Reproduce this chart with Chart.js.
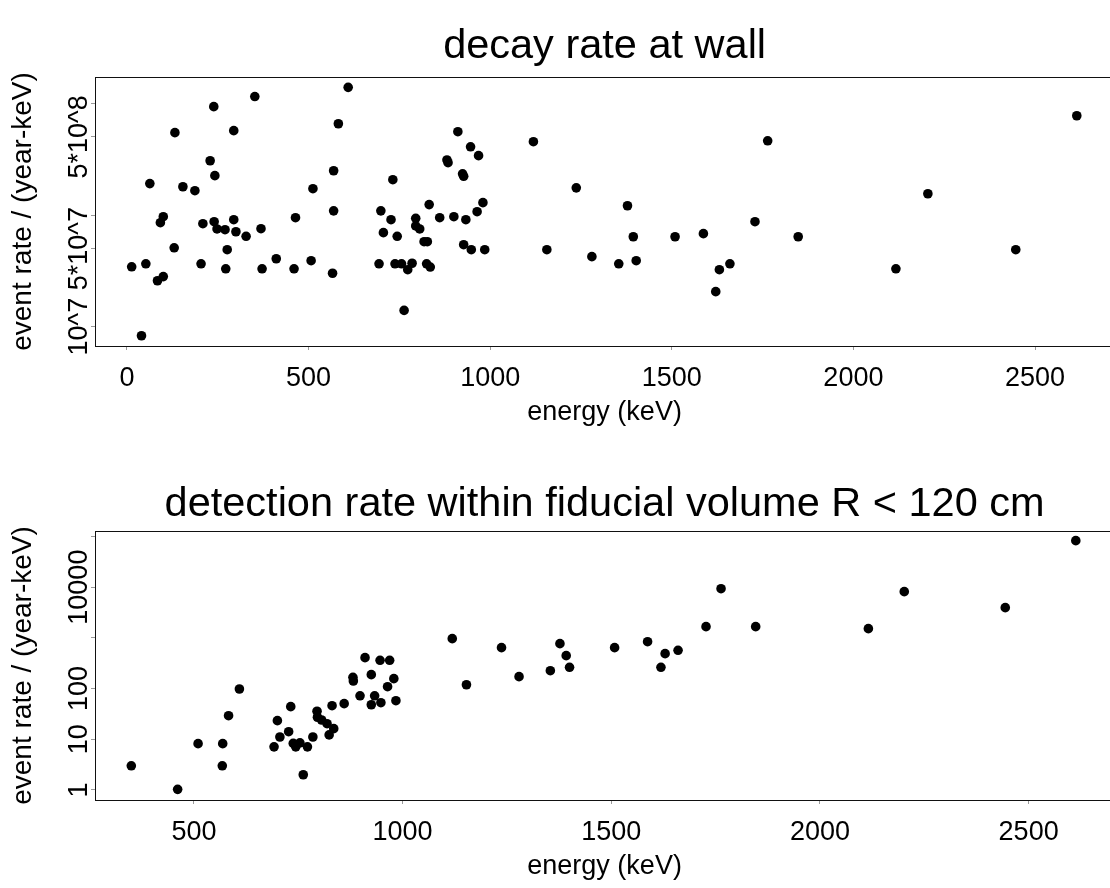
<!DOCTYPE html>
<html lang="en">
<head>
  <meta charset="UTF-8">
  <title>decay rate at wall / detection rate within fiducial volume</title>
  <script src="https://cdn.jsdelivr.net/npm/chart.js"></script>
  <style>
    html, body { margin: 0; padding: 0; background: #fff; overflow: hidden; }
    .panel { width: 1119px; height: 454px; }
    canvas { display: block; }
  </style>
</head>
<body>
  <div class="panel"><canvas id="wallChart" width="1119" height="454"></canvas></div>
  <div class="panel"><canvas id="fidChart" width="1119" height="454"></canvas></div>

  <script>
    // top panel: decay rate at wall (keV, events / year-keV)
    const wallEnergy = [13, 52, 40, 63, 84, 100, 92, 100, 132, 130, 154, 187, 204, 209, 229, 239, 242, 240,
      248, 270, 276, 272, 294, 294, 300, 328, 352, 369, 372, 411, 460, 464, 507, 512, 566, 569, 569, 582,
      609, 694, 699, 706, 732, 727, 738, 744, 756, 763, 773, 785, 795, 795, 806, 818, 827, 825, 835, 832,
      861, 881, 884, 900, 911, 924, 927, 933, 927, 946, 948, 968, 964, 980, 985, 1119, 1156, 1237, 1280,
      1354, 1378, 1394, 1402, 1509, 1587, 1621, 1631, 1660, 1729, 1764, 1848, 2117, 2205, 2447, 2615];
    const wallRate = [3.44e7, 3.66e7, 8.3e6, 1.91e8, 2.58e7, 2.81e7, 8.53e7, 9.66e7, 5.46e8, 5.09e7, 1.79e8,
      1.65e8, 3.66e7, 8.36e7, 3.06e8, 9.33e8, 2.25e8, 8.71e7, 7.5e7, 7.39e7, 4.89e7, 3.3e7, 9.08e7, 5.69e8,
      7.08e7, 6.45e7, 1.15e9, 7.54e7, 3.3e7, 4.06e7, 3.3e7, 9.46e7, 3.9e7, 1.72e8, 3.01e7, 2.49e8, 1.09e8,
      6.56e8, 1.39e9, 3.66e7, 1.09e8, 6.95e7, 2.07e8, 9.08e7, 3.66e7, 6.45e7, 3.66e7, 1.4e7, 3.24e7, 3.7e7,
      9.34e7, 7.98e7, 7.5e7, 5.77e7, 5.77e7, 3.66e7, 3.42e7, 1.24e8, 9.46e7, 3.11e8, 2.94e8, 9.66e7, 5.57e8,
      2.34e8, 2.22e8, 9.08e7, 5.42e7, 4.08e8, 4.89e7, 3.4e8, 1.07e8, 1.29e8, 4.89e7, 4.53e8, 4.89e7, 1.75e8,
      4.24e7, 3.66e7, 1.21e8, 6.39e7, 3.9e7, 6.39e7, 6.81e7, 2.06e7, 3.24e7, 3.66e7, 8.71e7, 4.62e8, 6.39e7,
      3.3e7, 1.55e8, 4.89e7, 7.74e8];

    // bottom panel: detection rate within fiducial volume R < 120 cm
    const fidEnergy = [350, 461, 510, 569, 568, 583, 609, 692, 700, 706, 727, 732, 738, 744, 754, 762, 772,
      785, 795, 796, 806, 819, 824, 835, 831, 860, 881, 882, 898, 910, 925, 933, 925, 946, 948, 969, 964,
      979, 984, 1119, 1153, 1237, 1279, 1354, 1377, 1392, 1400, 1508, 1587, 1619, 1629, 1660, 1727, 1763,
      1846, 2116, 2202, 2444, 2613];
    const fidRate = [3.0, 1.03, 8.2, 8.2, 3.0, 29.2, 98, 7.1, 23.3, 11.1, 14.1, 44, 8.3, 7.1, 8.5, 2.0, 7.1,
      11.1, 35.7, 27.2, 24.0, 20.3, 12.2, 16.2, 46, 50.4, 167, 141, 72, 407, 188, 72, 48, 361, 52.7, 361, 109,
      157, 57.7, 964, 119, 641, 172, 225, 769, 446, 263, 641, 841, 263, 488, 569, 1664, 9330, 1664, 1520,
      8150, 3940, 82600];

    const wallXTicks = [0, 500, 1000, 1500, 2000, 2500];
    const fidXTicks = [500, 1000, 1500, 2000, 2500];
    const wallYTicks = [1e7, 5e7, 1e8, 5e8, 1e9];
    const wallYLabels = ['10^7', '5*10^7', '', '5*10^8', ''];
    const fidYTicks = [1, 10, 100, 1000, 10000, 100000];
    const fidYLabels = ['1', '10', '100', '', '10000', ''];

    const FONT = '"Liberation Sans", Arial, Helvetica, sans-serif';
    const axisFont = { family: FONT, size: 27, weight: 'normal' };

    // rotated y tick labels + the frame round the plot area
    const frameAndLabels = {
      id: 'frameAndLabels',
      afterDraw(chart, args, opts) {
        const { ctx, chartArea: a, scales: { y } } = chart;
        ctx.save();
        ctx.fillStyle = '#000';
        ctx.font = '27px ' + FONT;
        ctx.textAlign = 'center';
        ctx.textBaseline = 'alphabetic';
        opts.values.forEach((v, i) => {
          if (!opts.labels[i]) return;
          ctx.save();
          ctx.translate(opts.baseX, y.getPixelForValue(v));
          ctx.rotate(-Math.PI / 2);
          ctx.fillText(opts.labels[i], 0, 0);
          ctx.restore();
        });
        ctx.strokeStyle = '#111';
        ctx.lineWidth = 1;
        ctx.strokeRect(Math.round(a.left) + 0.5, Math.round(a.top) + 0.5,
          Math.round(a.right - a.left), Math.round(a.bottom - a.top));
        ctx.restore();
      }
    };

    function makePanel(id, p) {
      return new Chart(document.getElementById(id), {
        type: 'scatter',
        data: {
          datasets: [{
            data: p.x.map((x, i) => ({ x: x, y: p.y[i] })),
            pointRadius: 4.8,
            pointHoverRadius: 4.8,
            backgroundColor: '#000',
            borderWidth: 0
          }]
        },
        options: {
          responsive: false,
          animation: false,
          events: [],
          layout: { padding: 0 },
          plugins: {
            legend: { display: false },
            tooltip: { enabled: false },
            title: {
              display: true,
              text: p.title,
              fullSize: false,
              color: '#000',
              font: { family: FONT, size: 41.5, weight: 'normal', lineHeight: 1.2 },
              padding: { top: p.titleTop, bottom: 77 - p.titleTop - 49.8 }
            },
            frameAndLabels: { values: p.yTicks, labels: p.yLabels, baseX: 87 }
          },
          scales: {
            x: {
              type: 'linear',
              min: p.xMin,
              max: p.xMax,
              bounds: 'data',
              afterBuildTicks: s => { s.ticks = p.xTicks.map(v => ({ value: v })); },
              afterFit: s => { s.height = 108; },
              grid: { display: true, drawOnChartArea: false, drawTicks: true, tickLength: 4, tickColor: '#999' },
              border: { display: false },
              ticks: { color: '#000', font: axisFont, padding: 12.5, autoSkip: false, maxRotation: 0,
                callback: v => String(v) },
              title: { display: true, text: 'energy (keV)', color: '#000', font: axisFont,
                padding: { top: 0, bottom: 25.5 } }
            },
            y: {
              type: 'logarithmic',
              min: p.yMin,
              max: p.yMax,
              bounds: 'data',
              afterBuildTicks: s => { s.ticks = p.yTicks.map(v => ({ value: v })); },
              afterFit: s => { s.width = 95; },
              grid: { display: true, drawOnChartArea: false, drawTicks: true, tickLength: 4, tickColor: '#999' },
              border: { display: false },
              ticks: { display: false },
              title: { display: true, text: 'event rate / (year-keV)', color: '#000',
                font: { family: FONT, size: 28, weight: 'normal' },
                padding: { top: 6, bottom: 0 } }
            }
          }
        },
        plugins: [frameAndLabels]
      });
    }

    makePanel('wallChart', {
      title: 'decay rate at wall', titleTop: 22,
      x: wallEnergy, y: wallRate,
      xMin: -88, xMax: 2718, xTicks: wallXTicks,
      yMin: 6.72e6, yMax: 1.72e9, yTicks: wallYTicks, yLabels: wallYLabels
    });

    makePanel('fidChart', {
      title: 'detection rate within fiducial volume R < 120 cm', titleTop: 26,
      x: fidEnergy, y: fidRate,
      xMin: 263, xMax: 2705, xTicks: fidXTicks,
      yMin: 0.635, yMax: 1.28e5, yTicks: fidYTicks, yLabels: fidYLabels
    });
  </script>
</body>
</html>
